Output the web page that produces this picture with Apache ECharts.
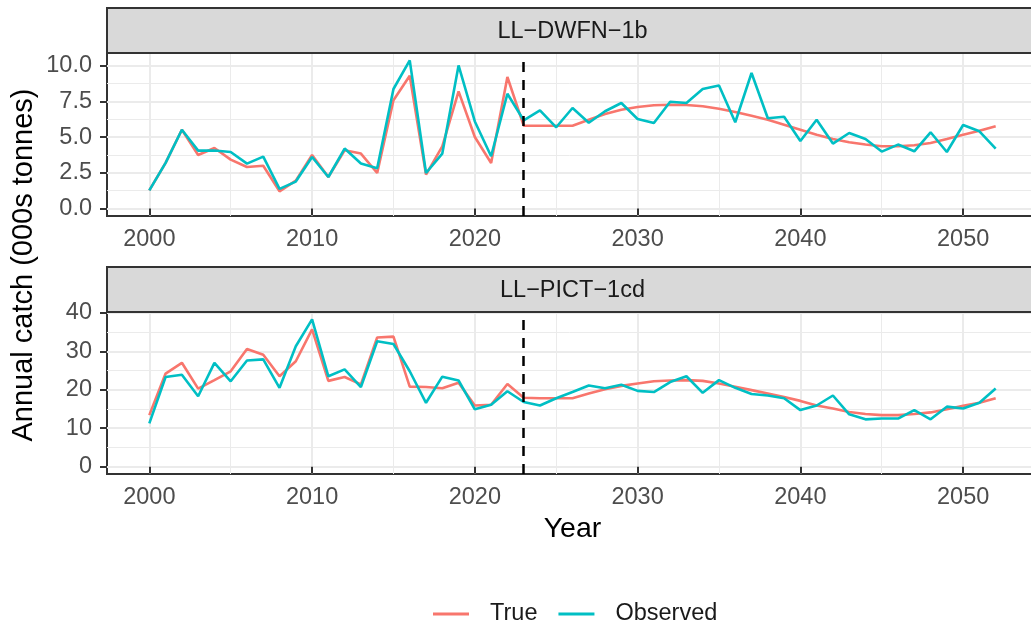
<!DOCTYPE html>
<html>
<head>
<meta charset="utf-8">
<script src="https://cdn.jsdelivr.net/npm/echarts@6/dist/echarts.min.js"></script>
<style>html,body{margin:0;padding:0;background:#fff}#chart{width:1031px;height:625px}</style>
</head>
<body>
<div id="chart"></div>
<script>
// ---------- data ----------
const years = [];
for (let y = 2000; y <= 2052; y++) years.push(y);

const panelNames = ['LL\u2212DWFN\u22121b', 'LL\u2212PICT\u22121cd'];
const seriesNames = ['True', 'Observed'];
const splitYear = 2023;

const dwfnTrue = [1.28, 3.2, 5.52, 3.75, 4.24, 3.43, 2.91, 3.0, 1.21, 1.96, 3.75, 2.21, 4.08, 3.85, 2.49, 7.58, 9.3, 2.38, 4.36, 8.2, 5.01, 3.19, 9.21, 5.8,
  5.8, 5.8, 5.8, 6.22, 6.62, 6.92, 7.11, 7.23, 7.27, 7.25, 7.16, 6.99, 6.76, 6.5, 6.22, 5.87, 5.52, 5.17, 4.87, 4.64, 4.48, 4.36, 4.36, 4.43, 4.59, 4.87, 5.17, 5.45, 5.76];
const dwfnObs = [1.28, 3.2, 5.52, 4.06, 4.06, 3.96, 3.15, 3.64, 1.38, 1.89, 3.61, 2.21, 4.2, 3.15, 2.82, 8.37, 10.37, 2.49, 3.85, 10.02, 6.1, 3.66, 8.04, 6.18,
  6.88, 5.69, 7.04, 6.01, 6.81, 7.39, 6.27, 5.99, 7.48, 7.39, 8.37, 8.62, 6.04, 9.49, 6.32, 6.43, 4.73, 6.22, 4.55, 5.29, 4.87, 3.99, 4.48, 4.01, 5.34, 3.96, 5.85, 5.41, 4.2];
const pictTrue = [13.4, 24.2, 27.0, 20.3, 22.5, 24.8, 30.6, 29.1, 23.5, 27.4, 35.7, 22.3, 23.3, 21.4, 33.6, 33.8, 20.8, 20.7, 20.4, 21.8, 15.9, 16.1, 21.5, 17.9,
  17.8, 17.8, 17.8, 19.0, 20.1, 21.0, 21.6, 22.2, 22.4, 22.5, 22.3, 21.6, 20.8, 19.9, 19.0, 18.1, 17.1, 15.9, 15.1, 14.2, 13.7, 13.4, 13.4, 13.7, 14.1, 14.9, 15.8, 16.6, 17.8];
const pictObs = [11.26, 23.3, 23.9, 18.3, 27.0, 22.2, 27.6, 27.9, 20.5, 31.3, 38.3, 23.5, 25.3, 20.7, 32.6, 31.9, 24.8, 16.6, 23.4, 22.4, 14.9, 16.1, 19.6, 16.8,
  15.9, 17.8, 19.4, 21.1, 20.4, 21.3, 19.7, 19.4, 22.0, 23.5, 19.2, 22.5, 20.5, 18.9, 18.5, 17.8, 14.7, 15.9, 18.5, 13.6, 12.3, 12.5, 12.5, 14.7, 12.3, 15.6, 15.1, 16.6, 20.3];

const xMajor = [2000, 2010, 2020, 2030, 2040, 2050];
const xMinor = [2005, 2015, 2025, 2035, 2045];
const yMajorTop = [0, 2.5, 5, 7.5, 10];
const yMinorTop = [1.25, 3.75, 6.25, 8.75];
const yMajorBot = [0, 10, 20, 30, 40];
const yMinorBot = [5, 15, 25, 35];

// ---------- layout / style ----------
const FONT = "'Liberation Sans', Arial, sans-serif";
const SMALL = 23.5;
const RED = '#F8766D', CYAN = '#00BFC4';
const panelLeft = 107, panelWidth = 931;
const panels = [
  { top: 53, height: 163, stripTop: 8, yMajor: yMajorTop, yMinor: yMinorTop, fmt: v => Number(v).toFixed(1), tru: dwfnTrue, obs: dwfnObs },
  { top: 312, height: 162, stripTop: 267, yMajor: yMajorBot, yMinor: yMinorBot, fmt: v => String(v), tru: pictTrue, obs: pictObs }
];
const stripH = 45;

const xMin = years[0] - 0.05 * (years[years.length - 1] - years[0]);
const xMax = years[years.length - 1] + 0.05 * (years[years.length - 1] - years[0]);

const grid = [], xAxis = [], yAxis = [], series = [], graphic = [];

panels.forEach((p, i) => {
  const dmax = Math.max(...p.tru, ...p.obs);
  const yMin = -0.05 * dmax, yMax = dmax * 1.05;
  grid.push({ left: panelLeft, top: p.top, width: panelWidth, height: p.height, show: true,
    outerBoundsMode: 'none', containLabel: false,
    borderColor: '#333333', borderWidth: 2, backgroundColor: 'transparent' });
  // major x
  xAxis.push({ type: 'value', gridIndex: i, min: xMin, max: xMax, position: 'bottom',
    axisLine: { show: false },
    axisTick: { show: true, length: 7, lineStyle: { color: '#333333', width: 2 }, customValues: xMajor },
    axisLabel: { show: true, margin: 12, color: '#4d4d4d', fontSize: SMALL, fontFamily: FONT, customValues: xMajor, formatter: v => String(v) },
    splitLine: { show: true, lineStyle: { color: '#ebebeb', width: 2 } } });
  // minor x
  xAxis.push({ type: 'value', gridIndex: i, min: xMin, max: xMax, position: 'top',
    axisLine: { show: false }, axisTick: { show: false, customValues: xMinor },
    axisLabel: { show: false, customValues: xMinor },
    splitLine: { show: true, lineStyle: { color: '#ebebeb', width: 1 } } });
  // major y
  yAxis.push({ type: 'value', gridIndex: i, min: yMin, max: yMax, position: 'left',
    axisLine: { show: false },
    axisTick: { show: true, length: 7, lineStyle: { color: '#333333', width: 2 }, customValues: p.yMajor },
    axisLabel: { show: true, margin: 15, color: '#4d4d4d', fontSize: SMALL, fontFamily: FONT, customValues: p.yMajor, formatter: p.fmt },
    splitLine: { show: true, lineStyle: { color: '#ebebeb', width: 2 } } });
  // minor y
  yAxis.push({ type: 'value', gridIndex: i, min: yMin, max: yMax, position: 'right',
    axisLine: { show: false }, axisTick: { show: false, customValues: p.yMinor },
    axisLabel: { show: false, customValues: p.yMinor },
    splitLine: { show: true, lineStyle: { color: '#ebebeb', width: 1 } } });

  const xi = i * 2, yi = i * 2;
  series.push({ name: seriesNames[0], type: 'line', xAxisIndex: xi, yAxisIndex: yi, showSymbol: false, symbol: 'none',
    data: years.map((y, k) => [y, p.tru[k]]), lineStyle: { color: RED, width: 2.6 }, itemStyle: { color: RED }, z: 3,
    markLine: { silent: true, symbol: ['none', 'none'], label: { show: false },
      lineStyle: { color: '#000', width: 2.5, type: [10, 8], cap: 'butt' },
      data: [{ xAxis: splitYear }], animation: false } });
  series.push({ name: seriesNames[1], type: 'line', xAxisIndex: xi, yAxisIndex: yi, showSymbol: false, symbol: 'none',
    data: years.map((y, k) => [y, p.obs[k]]), lineStyle: { color: CYAN, width: 2.6 }, itemStyle: { color: CYAN }, z: 4 });

  graphic.push({ type: 'rect', shape: { x: panelLeft, y: p.stripTop, width: panelWidth, height: stripH },
    style: { fill: '#d9d9d9', stroke: '#333333', lineWidth: 2 }, z: 10 });
  graphic.push({ type: 'text', x: panelLeft + panelWidth / 2, y: p.stripTop + stripH / 2 + 1,
    style: { text: panelNames[i], fill: '#1a1a1a', font: SMALL + 'px ' + FONT, textAlign: 'center', textVerticalAlign: 'middle' }, z: 11 });
});

graphic.push({ type: 'text', x: 24, y: 265, rotation: Math.PI / 2,
  style: { text: 'Annual catch (000s tonnes)', fill: '#000', font: '29px ' + FONT, textAlign: 'center', textVerticalAlign: 'middle' } });
graphic.push({ type: 'text', x: panelLeft + panelWidth / 2, y: 529,
  style: { text: 'Year', fill: '#000', font: '28.5px ' + FONT, textAlign: 'center', textVerticalAlign: 'middle' } });

const chart = echarts.init(document.getElementById('chart'), null, { renderer: 'canvas' });
chart.setOption({
  animation: false,
  backgroundColor: '#ffffff',
  grid, xAxis, yAxis, series, graphic,
  legend: {
    left: 433, top: 602, padding: 0, itemWidth: 36, itemHeight: 3, itemGap: 21, icon: 'rect',
    data: seriesNames.map((n, k) => ({ name: n, icon: 'rect', itemStyle: { color: k ? CYAN : RED } })),
    textStyle: { fontSize: SMALL, color: '#1a1a1a', fontFamily: FONT, padding: [0, 0, 0, 16] }
  }
});
</script>
</body>
</html>
